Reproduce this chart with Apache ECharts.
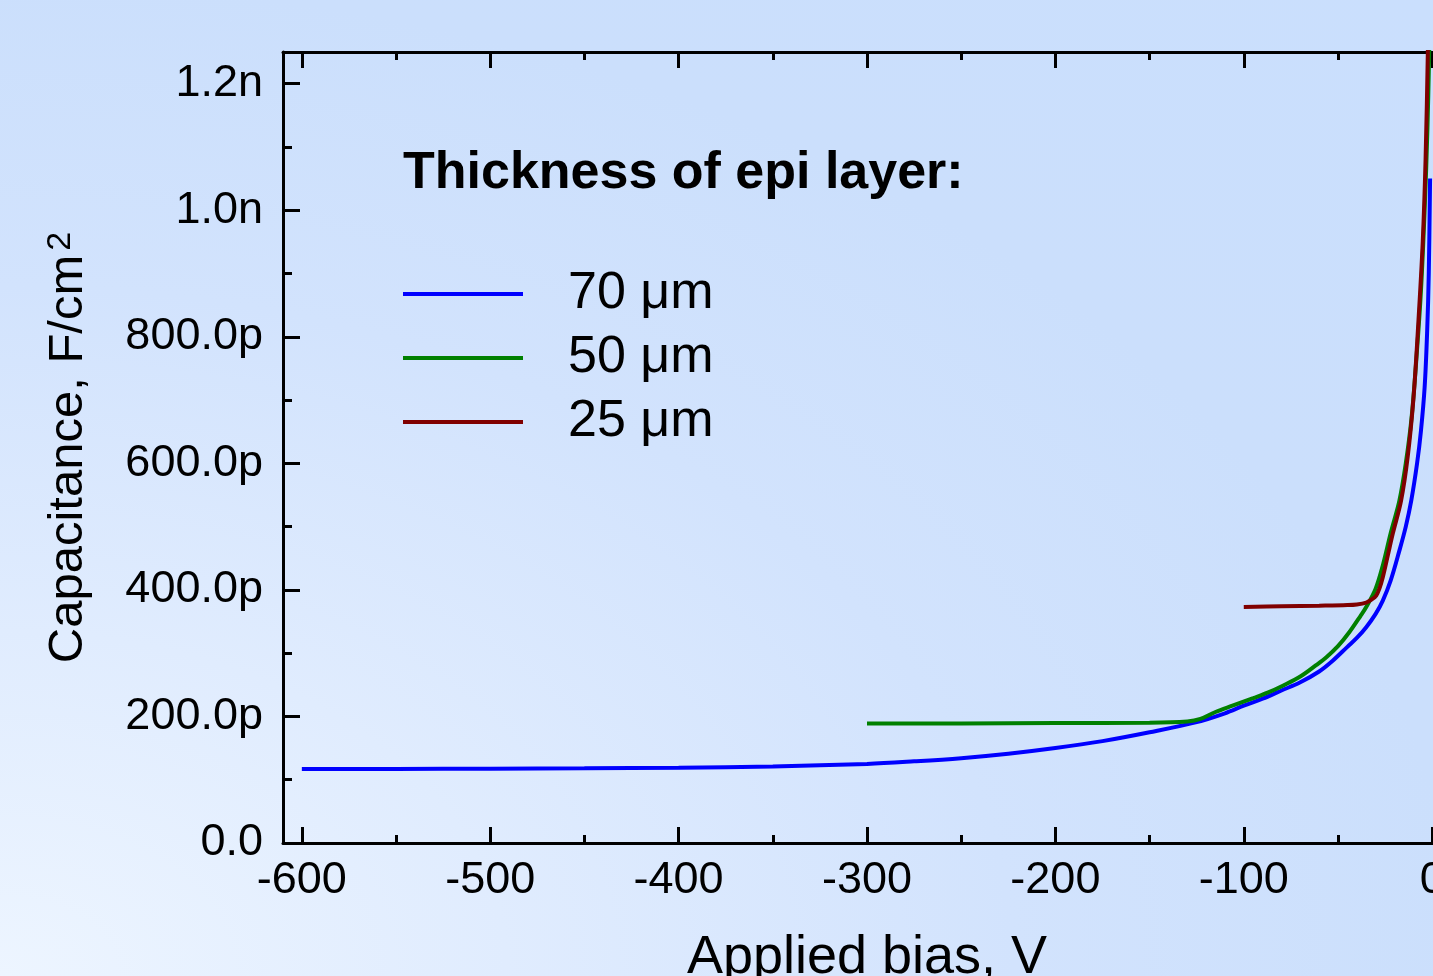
<!DOCTYPE html>
<html>
<head>
<meta charset="utf-8">
<script src="https://cdn.jsdelivr.net/npm/echarts@6/dist/echarts.min.js"></script>
<style>
html,body{margin:0;padding:0;width:1433px;height:976px;overflow:hidden;
background:radial-gradient(ellipse farthest-corner at 0% 100%, #edf5ff 0%, #e0ecfe 25%, #d2e3fd 50%, #cbdffc 72%, #cadffd 100%);}
#chart{width:1600px;height:976px;}
</style>
</head>
<body>
<div id="chart"></div>
<script>
// Applied bias (V) and capacitance (pF/cm^2)
var series70 = [[-600,117],[-550,117],[-500,117.5],[-450,118],[-400,119],[-350,121],[-300,125],[-275,129],[-250,134],[-225,141],[-200,150],[-175,161],[-150,175],[-125,191],[-110,205],[-100,217],[-90,228],[-80,241],[-70,254],[-60,271],[-52.8,288],[-45,310],[-40,324],[-35,341],[-30,362],[-26.2,383],[-22,415],[-17.4,462],[-14,500],[-11.1,541],[-8,600],[-6,650],[-4,720],[-2.65,809],[-1.8,900],[-1.1,1050]];
var series50 = [[-300,189],[-250,189],[-200,189.5],[-150,190],[-130,192],[-123,196],[-115,207],[-106,217],[-95,229],[-87,238],[-79,249],[-70,263],[-61.6,281],[-56,294],[-50,311],[-44,333],[-38,359],[-35,373],[-30,402],[-26,441],[-22,490],[-17.4,541],[-14,600],[-11,670],[-8.5,760],[-6,870],[-4,1000],[-2.5,1130],[-1.5,1260]];
var series25 = [[-100,373],[-80,374],[-60,375],[-45,376],[-40,377],[-35,380],[-32,385],[-29.7,391],[-28,402],[-26.2,420],[-23.5,455],[-20.9,489],[-16.5,541],[-13,610],[-10,700],[-7.6,809],[-5,950],[-3.5,1080],[-2.3,1249],[-1.8,1350]];
var seriesNames = ['70 \u03bcm','50 \u03bcm','25 \u03bcm'];
var seriesColors = ['#0000ff','#008000','#800000'];
var xTicks = [-600,-500,-400,-300,-200,-100,0];
var xMinorTicks = [-550,-450,-350,-250,-150,-50];
var yTicks = [0,200,400,600,800,1000,1200];
var yTickLabels = ['0.0','200.0p','400.0p','600.0p','800.0p','1.0n','1.2n'];
var yMinorTicks = [100,300,500,700,900,1100];
var legendTitle = 'Thickness of epi layer:';
var xName = 'Applied bias, V';
var yName = 'Capacitance, F/cm';

var FONT = "'Liberation Sans', Arial, sans-serif";
var xMin = -610, xMax = 10, yMin = 0, yMax = 1250;
var axisLineStyle = {color:'#000', width:3};

function xAxisDef(pos, ticks, len, showLine, showLabel) {
  return {
    type:'value', position:pos, min:xMin, max:xMax, gridIndex:0,
    axisLine:{show:showLine, onZero:false, lineStyle:axisLineStyle},
    axisTick:{show:true, inside:true, length:len, customValues:ticks, lineStyle:{color:'#000', width:3}},
    axisLabel:{show:showLabel, customValues:ticks, margin:15, fontSize:45, color:'#000', fontFamily:FONT},
    splitLine:{show:false}
  };
}
function yAxisDef(ticks, len, showLine, showLabel) {
  return {
    type:'value', position:'left', offset:0, min:yMin, max:yMax, gridIndex:0,
    axisLine:{show:showLine, onZero:false, lineStyle:axisLineStyle},
    axisTick:{show:true, inside:true, length:len, customValues:ticks, lineStyle:{color:'#000', width:3}},
    axisLabel:{show:showLabel, customValues:ticks, margin:20, fontSize:45, color:'#000', fontFamily:FONT,
      formatter:function(v){ var i = yTicks.indexOf(v); return i>=0 ? yTickLabels[i] : ''; }},
    splitLine:{show:false}
  };
}

var xMain = xAxisDef('bottom', xTicks, 16, true, true);
xMain.name = xName;
xMain.nameLocation = 'middle';
xMain.nameGap = 88;
xMain.nameTextStyle = {fontSize:54, color:'#000', fontFamily:FONT};

var yMain = yAxisDef(yTicks, 17, true, true);
yMain.name = '{t|' + yName + '}{s|2}';
yMain.nameLocation = 'middle';
yMain.nameGap = 190;
yMain.nameTextStyle = {color:'#000', fontFamily:FONT,
  rich:{t:{fontSize:49, fontFamily:FONT, color:'#000'}, s:{fontSize:34, fontFamily:FONT, color:'#000', verticalAlign:'top', padding:[0,0,8,4]}}};

var chart = echarts.init(document.getElementById('chart'), null, {renderer:'canvas'});
chart.setOption({
  backgroundColor:'transparent',
  animation:false,
  title:{text:legendTitle, left:403, top:148, padding:0,
    textStyle:{fontSize:52, fontWeight:'bold', color:'#000', fontFamily:FONT}},
  legend:{
    orient:'vertical', left:403, top:268, padding:0,
    icon:'rect', itemWidth:120, itemHeight:4, itemGap:12,
    textStyle:{fontSize:52, lineHeight:50, color:'#000', fontFamily:FONT, padding:[0,0,0,40]},
    data:seriesNames
  },
  grid:{left:283, top:52, right:149, bottom:133, containLabel:false, outerBoundsMode:'none'},
  xAxis:[xMain, xAxisDef('bottom', xMinorTicks, 8, false, false),
         xAxisDef('top', xTicks, 16, true, false), xAxisDef('top', xMinorTicks, 8, false, false)],
  yAxis:[yMain, yAxisDef(yMinorTicks, 9, false, false)],
  series:[
    {name:seriesNames[0], type:'line', data:series70, xAxisIndex:0, yAxisIndex:0, symbol:'none', smooth:0.35, color:seriesColors[0], lineStyle:{width:4, color:seriesColors[0]}, clip:true},
    {name:seriesNames[1], type:'line', data:series50, xAxisIndex:0, yAxisIndex:0, symbol:'none', smooth:0.35, color:seriesColors[1], lineStyle:{width:4, color:seriesColors[1]}, clip:true},
    {name:seriesNames[2], type:'line', data:series25, xAxisIndex:0, yAxisIndex:0, symbol:'none', smooth:0.35, color:seriesColors[2], lineStyle:{width:4, color:seriesColors[2]}, clip:true}
  ]
});
</script>
</body>
</html>
